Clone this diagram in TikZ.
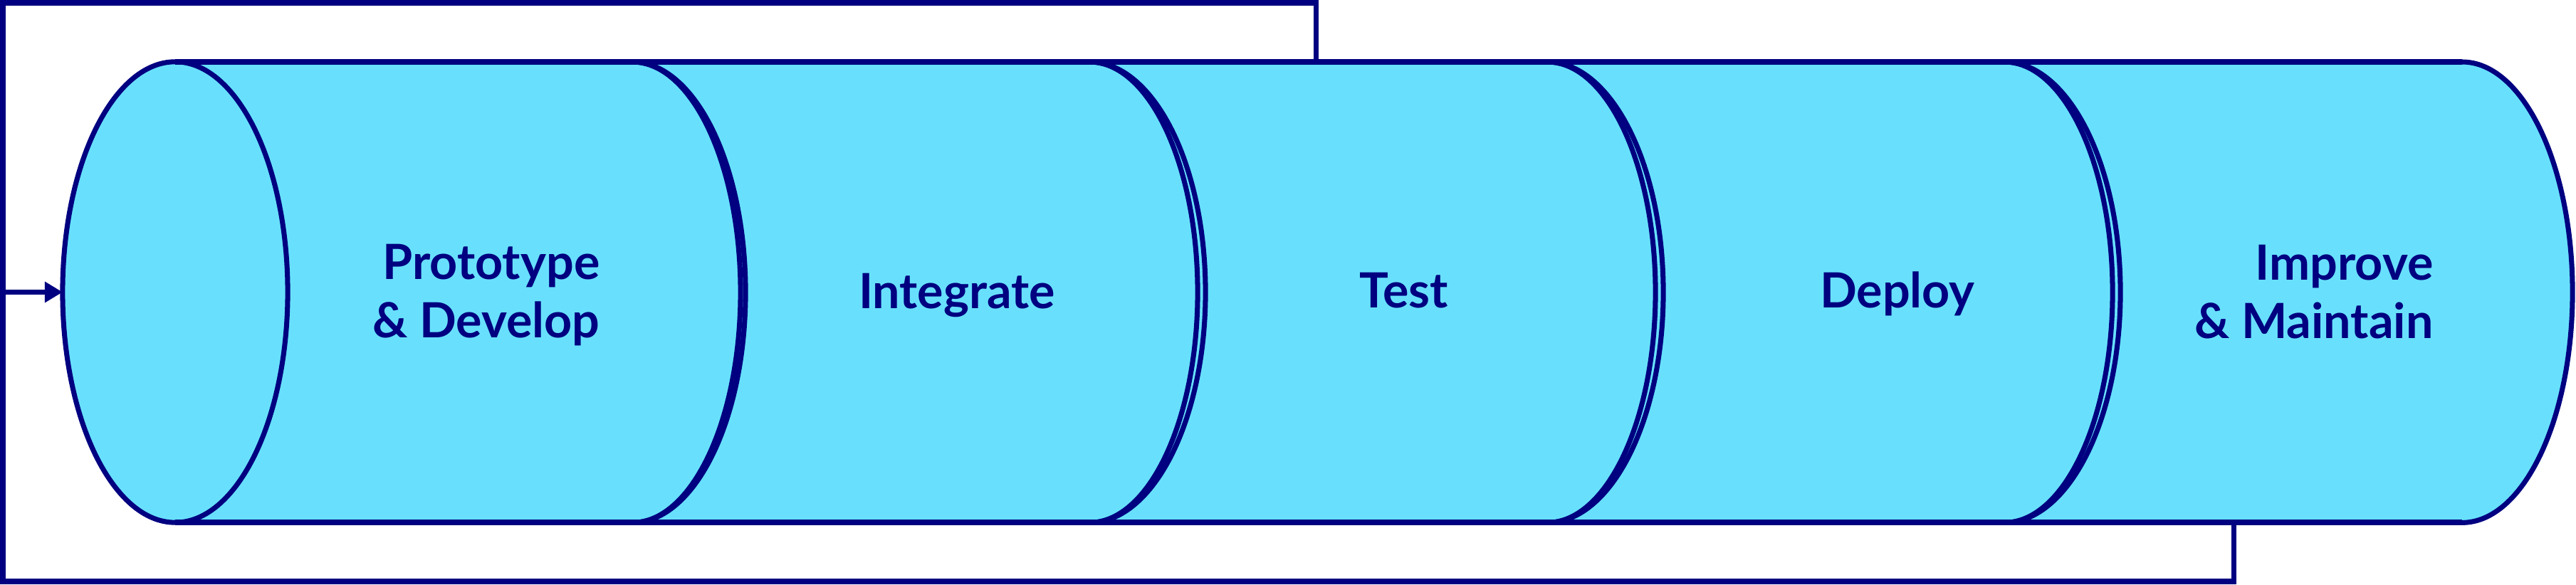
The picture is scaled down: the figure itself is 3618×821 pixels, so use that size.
\documentclass[tikz,border=0pt]{standalone}
\usepackage{fontspec}
\setmainfont{Lato}
\usetikzlibrary{arrows.meta}
\definecolor{pipenavy}{RGB}{0,0,128}
\definecolor{pipecyan}{RGB}{104,224,253}
\tikzset{
  pipeline/.style={draw=pipenavy, line width=2pt},
  stagelabel/.style={text=pipenavy, inner sep=0pt,
    font=\bfseries\fontsize{19.4pt}{23.6pt}\selectfont},
}
\begin{document}
\begin{tikzpicture}[x=0.01cm, y=0.01cm]
    \useasboundingbox (0,0) rectangle (3618,821);
    % the pipe
    \fill[pipecyan] (246,734) -- (3458,734)
        arc[start angle=90, end angle=-90, x radius=1.55cm, y radius=3.235cm]
        -- (246,87)
        arc[start angle=270, end angle=90, x radius=1.58cm, y radius=3.235cm] -- cycle;
    \draw[pipeline] (246,734) -- (3458,734);
    \draw[pipeline] (246,87) -- (3458,87);
    \draw[pipeline] (246,410.5) ellipse [x radius=1.58cm, y radius=3.235cm];
    \foreach \cx/\rout in {888/1.59, 1530/1.63, 2173/1.63, 2815/1.63} {
        \draw[pipeline] (\cx,734) arc[start angle=90, end angle=-90, x radius=1.52cm, y radius=3.235cm];
        \draw[pipeline] (\cx,734) arc[start angle=90, end angle=-90, x radius=\rout cm, y radius=3.235cm];
    }
    \draw[pipeline] (3458,734) arc[start angle=90, end angle=-90, x radius=1.55cm, y radius=3.235cm];
    % feedback loop
    \coordinate (topjoin) at (1848,734);
    \coordinate (loopTR) at (1848,817);
    \coordinate (loopTL) at (4,817);
    \coordinate (loopBL) at (4,4);
    \coordinate (loopBR) at (3137,4);
    \coordinate (botjoin) at (3137,87);
    \coordinate (loopin) at (4,410.5);
    \coordinate (pipein) at (88,410.5);
    \draw[pipeline] (botjoin) -- (loopBR) -- (loopBL) -- (loopTL) -- (loopTR) -- (topjoin);
    \draw[pipeline, -{Triangle[length=0.25cm, width=0.28cm]}] (loopin) -- (pipein);
    % stages
    \node[stagelabel, align=right, anchor=base east] (protodev) at (843,346) {Prototype\\\& Develop};
    \node[stagelabel, anchor=base] (integrate) at (1344,387) {Integrate};
    \node[stagelabel, anchor=base] (test) at (1972,388) {Test};
    \node[stagelabel, anchor=base] (deploy) at (2665,388) {Deploy};
    \node[stagelabel, align=right, anchor=base east] (improve) at (3418,345) {Improve\\\& Maintain};
\end{tikzpicture}
\end{document}
